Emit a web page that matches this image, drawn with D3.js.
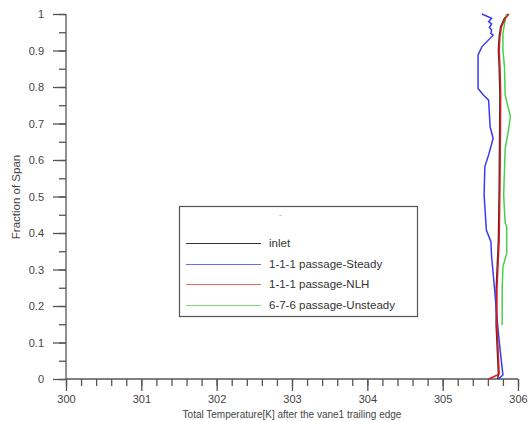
<!DOCTYPE html>
<html>
<head>
<meta charset="utf-8">
<script src="https://cdn.jsdelivr.net/npm/d3@7"></script>
<style>
  body { margin: 0; background: #fff; }
  text { font-family: "Liberation Sans", Arial, sans-serif; }
</style>
</head>
<body>
<svg id="mainSvg" width="528" height="421"></svg>
<script>
// span fractions + temperatures
const inletSpan = [0, 0.013, 0.148, 0.244, 0.381, 0.518, 0.778, 0.856, 0.901, 0.938, 0.965, 0.988, 1.0];
const inletTemp = [305.73, 305.74, 305.71, 305.71, 305.74, 305.75, 305.76, 305.75, 305.74, 305.75, 305.77, 305.82, 305.87];

const steadySpan = [0, 0.011, 0.084, 0.148, 0.244, 0.335, 0.376, 0.408, 0.504, 0.582, 0.614, 0.659, 0.691,
    0.764, 0.778, 0.796, 0.888, 0.910, 0.942, 0.947, 0.956, 0.963, 0.973, 0.979, 0.988, 1.0];
const steadyTemp = [305.74, 305.80, 305.76, 305.73, 305.69, 305.65, 305.64, 305.58, 305.55, 305.56, 305.61, 305.67, 305.63,
    305.61, 305.54, 305.47, 305.47, 305.52, 305.67, 305.64, 305.65, 305.62, 305.65, 305.61, 305.65, 305.52];

const nlhSpan = [0, 0.013, 0.148, 0.244, 0.381, 0.518, 0.778, 0.856, 0.901, 0.938, 0.965, 0.988, 1.0];
const nlhTemp = [305.61, 305.75, 305.72, 305.72, 305.75, 305.76, 305.77, 305.76, 305.75, 305.76, 305.78, 305.83, 305.88];

const unsteadySpan = [0.148, 0.244, 0.308, 0.344, 0.417, 0.427, 0.463, 0.504, 0.632, 0.678, 0.719, 0.760,
    0.778, 0.856, 0.901, 0.947, 0.984, 1.0];
const unsteadyTemp = [305.79, 305.79, 305.80, 305.85, 305.85, 305.83, 305.82, 305.81, 305.83, 305.87, 305.90, 305.85,
    305.83, 305.82, 305.80, 305.80, 305.83, 305.85];

const seriesNames = ["inlet", "1-1-1 passage-Steady", "1-1-1 passage-NLH", "6-7-6 passage-Unsteady"];
const xTicks = [300, 301, 302, 303, 304, 305, 306];
const yTicks = [0, 0.1, 0.2, 0.3, 0.4, 0.5, 0.6, 0.7, 0.8, 0.9, 1];

function drawChart() {
    let canvas = d3.select("#mainSvg");
    const axisColor = "#555";
    const labelColor = "#444";

    let x = d3.scaleLinear().domain([300, 306]).range([66, 518]);
    let y = d3.scaleLinear().domain([0, 1]).range([379, 14]);

    // minor ticks first, then the major ones on top
    let xMinor = canvas.append("g").attr("transform", "translate(0,379)")
        .call(d3.axisBottom(x).ticks(30).tickSize(7).tickFormat(""));
    let xMajor = canvas.append("g").attr("transform", "translate(0,379)")
        .call(d3.axisBottom(x).tickValues(xTicks).tickSize(12).tickPadding(4).tickFormat(d3.format("d")));
    let yMinor = canvas.append("g").attr("transform", "translate(66,0)")
        .call(d3.axisLeft(y).ticks(20).tickSize(7).tickFormat(""));
    let yMajor = canvas.append("g").attr("transform", "translate(66,0)")
        .call(d3.axisLeft(y).tickValues(yTicks).tickSize(13).tickPadding(9).tickFormat(d => d));

    [xMinor, xMajor, yMinor, yMajor].forEach(g => {
        g.selectAll("line").attr("stroke", axisColor).attr("stroke-width", 1.3);
        g.selectAll("path").attr("stroke", axisColor).attr("stroke-width", 1.3);
        g.selectAll("text").attr("fill", labelColor).style("font-size", "11px");
    });
    xMajor.select(".domain").remove();
    yMajor.select(".domain").remove();
    xMinor.select(".domain").attr("d", "M66,0H518");
    yMinor.select(".domain").attr("d", "M0,14V379");

    canvas.append("text")
        .attr("x", 292).attr("y", 418)
        .attr("text-anchor", "middle")
        .attr("fill", labelColor)
        .style("font-size", "10px")
        .text("Total Temperature[K] after the vane1 trailing edge");

    canvas.append("text")
        .attr("transform", "translate(20,197) rotate(-90)")
        .attr("text-anchor", "middle")
        .attr("fill", labelColor)
        .style("font-size", "11.5px")
        .text("Fraction of Span");

    let series = [
        {name: seriesNames[0], span: inletSpan, temp: inletTemp, color: "#333"},
        {name: seriesNames[3], span: unsteadySpan, temp: unsteadyTemp, color: "#4ccf4c"},
        {name: seriesNames[1], span: steadySpan, temp: steadyTemp, color: "#3a3af5"},
        {name: seriesNames[2], span: nlhSpan, temp: nlhTemp, color: "#e01818"}
    ];

    let line = d3.line().x(d => x(d[0])).y(d => y(d[1]));

    canvas.selectAll("path.series")
        .data(series)
        .enter()
            .append("path")
            .attr("class", "series")
            .attr("d", d => line(d.temp.map((t, i) => [t, d.span[i]])))
            .attr("fill", "none")
            .attr("stroke", d => d.color)
            .attr("stroke-width", 1.5);

    // legend
    let legend = canvas.append("g");
    legend.append("rect")
        .attr("x", 179.5).attr("y", 206.5).attr("width", 238).attr("height", 110)
        .attr("fill", "#fff").attr("stroke", "#555").attr("stroke-width", 1.2);
    legend.append("line")
        .attr("x1", 279).attr("x2", 282).attr("y1", 215.5).attr("y2", 215.5)
        .attr("stroke", "#ccc");

    let legendColors = ["#333", "#6b6bf5", "#f06a6a", "#7ad87a"];
    let rows = legend.selectAll("g.row")
        .data(seriesNames)
        .enter()
            .append("g")
            .attr("class", "row")
            .attr("transform", (d, i) => `translate(0,${Math.round(243 + i * 20.7)})`);
    rows.append("line")
        .attr("x1", 186).attr("x2", 261)
        .attr("y1", 0.5).attr("y2", 0.5)
        .attr("stroke", (d, i) => legendColors[i])
        .attr("stroke-width", 1.2);
    rows.append("text")
        .attr("x", 269).attr("y", 4)
        .attr("fill", "#333")
        .style("font-size", "11.5px")
        .text(d => d);
}

drawChart();
</script>
</body>
</html>
